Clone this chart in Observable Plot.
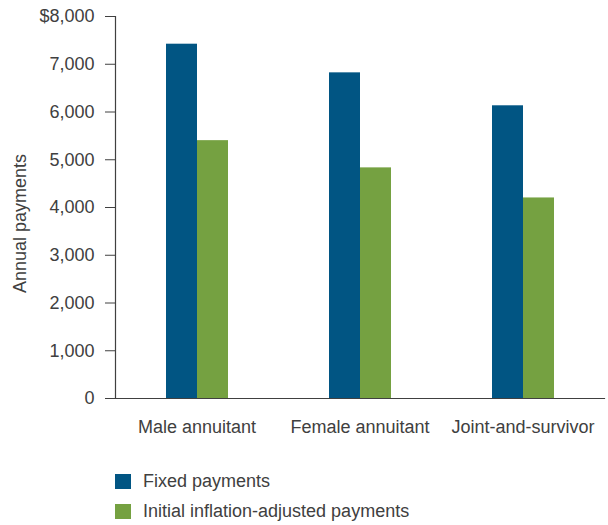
<!DOCTYPE html>
<html>
<head>
<meta charset="utf-8">
<script src="https://cdn.jsdelivr.net/npm/d3@7"></script>
<script src="https://cdn.jsdelivr.net/npm/@observablehq/plot@0.6"></script>
<style>
  body { margin: 0; background: #fff; font-family: "Liberation Sans", Arial, sans-serif; color: #404040; }
  #chart svg { display: block; }
  .legend { margin-top: 16px; padding-left: 115px; font-size: 18px; color: #404040; }
  .legend .item { display: flex; align-items: center; height: 30px; }
  .legend .sw { width: 16px; height: 15px; margin-right: 12px; }
</style>
</head>
<body>
<div id="chart"></div>
<script>
const categories = ["Male annuitant", "Female annuitant", "Joint-and-survivor"];
const series = ["Fixed payments", "Initial inflation-adjusted payments"];
const fixedValues = [7420, 6820, 6130];
const inflationValues = [5400, 4830, 4200];
const yTicks = [0, 1000, 2000, 3000, 4000, 5000, 6000, 7000, 8000];
const colors = ["#015583", "#75a141"];

const data = [];
categories.forEach((c, i) => {
  data.push({category: c, series: series[0], value: fixedValues[i]});
  data.push({category: c, series: series[1], value: inflationValues[i]});
});

const fmt = d3.format(",");
const chart = Plot.plot({
  width: 608,
  height: 450,
  marginLeft: 114,
  marginRight: 4,
  marginTop: 16,
  marginBottom: 52,
  style: {fontFamily: "'Liberation Sans', Arial, sans-serif", fontSize: "18px", color: "#404040", background: "#fff"},
  fx: {domain: categories, padding: 0, label: null, axis: "bottom", tickSize: 0, tickPadding: 22},
  x: {domain: series, paddingInner: 0, paddingOuter: 1.55, axis: null},
  y: {domain: [0, 8000], ticks: yTicks, tickSize: 10, tickPadding: 11, label: null,
      tickFormat: d => d === 8000 ? "$" + fmt(d) : fmt(d)},
  color: {domain: series, range: colors},
  marks: [
    Plot.barY(data, {fx: "category", x: "series", y: "value", fill: "series"}),
    Plot.frame({anchor: "bottom", stroke: "#404040", strokeWidth: 1.2, facet: "super"}),
    Plot.frame({anchor: "left", stroke: "#404040", strokeWidth: 1.2, facet: "super"}),
    Plot.text(["Annual payments"], {frameAnchor: "left", textAnchor: "middle", rotate: -90, dx: -95, dy: 16, facet: "super", fontSize: 18, fill: "#404040"})
  ]
});
document.getElementById("chart").appendChild(chart);

const legend = document.createElement("div");
legend.className = "legend";
series.forEach((s, i) => {
  const item = document.createElement("div");
  item.className = "item";
  const sw = document.createElement("div");
  sw.className = "sw";
  sw.style.background = colors[i];
  const t = document.createElement("span");
  t.textContent = s;
  item.appendChild(sw);
  item.appendChild(t);
  legend.appendChild(item);
});
document.body.appendChild(legend);
</script>
</body>
</html>
